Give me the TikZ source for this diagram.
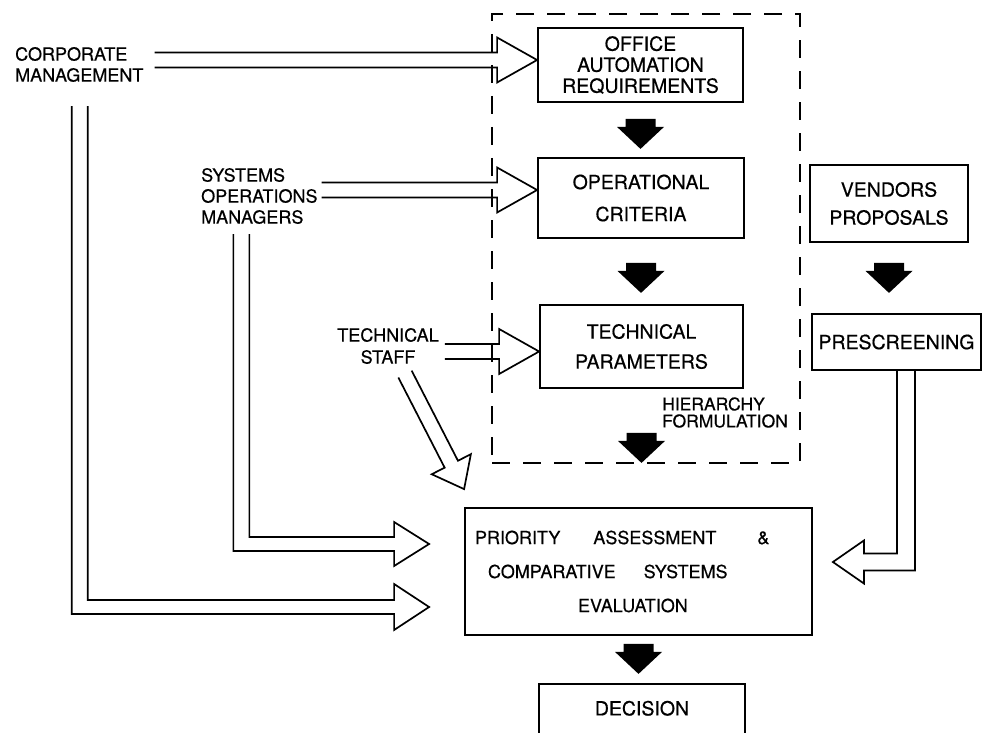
\documentclass[tikz,border=0pt]{standalone}
\usepackage{fontspec}
\setmainfont[FakeBold=0.5]{TeX Gyre Heros}
\usetikzlibrary{calc}

\tikzset{
  box/.style={draw, line width=1.8pt, align=center, inner sep=0pt},
  lbl/.style={inner sep=0pt},
  conn/.style={line width=1.7pt, line join=miter},
  frame/.style={draw, line width=2.2pt, dash pattern=on 18pt off 13pt},
  blockdown/.pic={\fill (-15,0) -- (15,0) -- (15,8) -- (23.5,8) -- (0,30) -- (-23.5,8) -- (-15,8) -- cycle;}
}

% open-ended hollow arrow pointing right: #1 gives the x of the tail, #2 the tip
\newcommand\hollowright[2]{%
  \draw[conn] let \p1=(#1), \p2=(#2) in
    (\x1,{\y2+7.5}) -- ({\x2-40},{\y2+7.5}) -- ({\x2-40},{\y2+22.5}) -- (\p2)
    -- ({\x2-40},{\y2-22.5}) -- ({\x2-40},{\y2-7.5}) -- (\x1,{\y2-7.5});}

\begin{document}
\begin{tikzpicture}[x=1pt, y=-1pt, font=\fontsize{18}{21}\selectfont]
\path[use as bounding box, fill=white] (0,0) rectangle (983,733);
\clip (0,0) rectangle (983,733);

% hierarchy formulation frame
\node[frame, minimum width=308pt, minimum height=449pt] (hierbox) at (646,238.5) {};

% boxes
\node[box, minimum width=205pt, minimum height=74pt, font=\fontsize{19.5}{21}\selectfont] (office) at (640.5,65)
  {OFFICE\\AUTOMATION\\REQUIREMENTS};
\node[box, minimum width=206pt, minimum height=80pt, font=\fontsize{19.5}{32}\selectfont] (oper) at (641,198)
  {OPERATIONAL\\CRITERIA};
\node[box, minimum width=203pt, minimum height=83pt, font=\fontsize{19.5}{30}\selectfont] (tech) at (641.5,346.5)
  {TECHNICAL\\PARAMETERS};
\node[box, minimum width=158pt, minimum height=77pt, font=\fontsize{19.5}{28}\selectfont] (vendors) at (889,203.5)
  {VENDORS\\PROPOSALS};
\node[box, minimum width=169pt, minimum height=56pt, font=\fontsize{19.5}{21}\selectfont] (presc) at (896.5,342) {PRESCREENING};
\node[box, minimum height=127pt, inner xsep=10pt, text width=327pt, align=left,
      font=\fontsize{18}{34}\selectfont] (prio) at (638.5,571.5)
  {PRIORITY\hspace{33pt}ASSESSMENT\hspace{41pt}\&\\
   \hspace*{13pt}COMPARATIVE\hspace{28pt}SYSTEMS\\
   \hspace*{103pt}EVALUATION};
\node[box, anchor=north, minimum width=206pt, inner ysep=17.5pt, text height=14pt, text depth=50pt,
      font=\fontsize{19.5}{21}\selectfont] (decision) at (642,683) {DECISION};

% source labels
\node[lbl, align=left, anchor=west, font=\fontsize{18}{21}\selectfont] (corp) at (15,64.5)
  {CORPORATE\\MANAGEMENT};
\node[lbl, align=left, anchor=west] (sysops) at (201,196)
  {SYSTEMS\\OPERATIONS\\MANAGERS};
\node[lbl, align=center, font=\fontsize{18}{22}\selectfont] (techstaff) at (388,346)
  {TECHNICAL\\STAFF};
\node[lbl, align=left, anchor=west, font=\fontsize{17.5}{17}\selectfont] (hierlbl) at (662,412.5)
  {HIERARCHY\\FORMULATION};

% solid block arrows
\pic at ($(office.south)+(0,16)$) {blockdown};
\pic at ($(oper.south)+(0,24)$) {blockdown};
\pic at ($(tech.south)+(0,44)$) {blockdown};
\pic at ($(vendors.south)+(0,20)$) {blockdown};
\pic at ($(prio.south)+(0,8)$) {blockdown};

% hollow arrows into the hierarchy
\hollowright{$(corp.east)+(11,0)$}{$(office.west)+(0,-5)$}
\hollowright{$(sysops.east)+(4,0)$}{$(oper.west)+(0,-8)$}
\hollowright{$(techstaff.east)+(6,0)$}{$(tech.west)+(0,5)$}

% corporate management down to the assessment
\coordinate (cmtop) at ($(corp.south)+(0.5,24)$);
\coordinate (cmtip) at ($(prio.west)+(-35,35.5)$);
\draw[conn] let \p1=(cmtop), \p2=(cmtip) in
  ({\x1-8},\y1) -- ({\x1-8},{\y2-7}) -- ({\x2-35},{\y2-7}) -- ({\x2-35},{\y2-23}) -- (\p2)
  -- ({\x2-35},{\y2+23}) -- ({\x2-35},{\y2+7}) -- ({\x1+8},{\y2+7}) -- ({\x1+8},\y1);

% systems operations managers down to the assessment
\coordinate (smtop) at ($(sysops.south)+(-18,10)$);
\coordinate (smtip) at ($(prio.west)+(-35,-27.5)$);
\draw[conn] let \p1=(smtop), \p2=(smtip) in
  ({\x1-8},\y1) -- ({\x1-8},{\y2-7}) -- ({\x2-35},{\y2-7}) -- ({\x2-35},{\y2-22}) -- (\p2)
  -- ({\x2-35},{\y2+22}) -- ({\x2-35},{\y2+7}) -- ({\x1+8},{\y2+7}) -- ({\x1+8},\y1);

% prescreening round to the assessment
\coordinate (pstop) at ($(presc.south)+(9.5,0)$);
\coordinate (pstip) at ($(prio.east)+(20,-9.5)$);
\draw[conn] let \p1=(pstop), \p2=(pstip) in
  ({\x1-9},\y1) -- ({\x1-9},{\y2+8.5}) -- ({\x2+31},{\y2+8.5}) -- ({\x2+31},{\y2+21.5}) -- (\p2)
  -- ({\x2+31},{\y2-21.5}) -- ({\x2+31},{\y2-8.5}) -- ({\x1+9},{\y2-8.5}) -- ({\x1+9},\y1);

% technical staff diagonal arrow
\coordinate (dS) at ($(techstaff.south)+(17,10)$);
\coordinate (dT) at ($(prio.north west)+(0,-18)$);
\coordinate (dB) at ($(dT)!28pt!(dS)$);
\draw[conn] ($(dS)!7.5pt!90:(dT)$) -- ($(dB)!7.5pt!90:(dT)$) -- ($(dB)!22pt!90:(dT)$) -- (dT)
  -- ($(dB)!22pt!-90:(dT)$) -- ($(dB)!7.5pt!-90:(dT)$) -- ($(dS)!7.5pt!-90:(dT)$);
\end{tikzpicture}
\end{document}
